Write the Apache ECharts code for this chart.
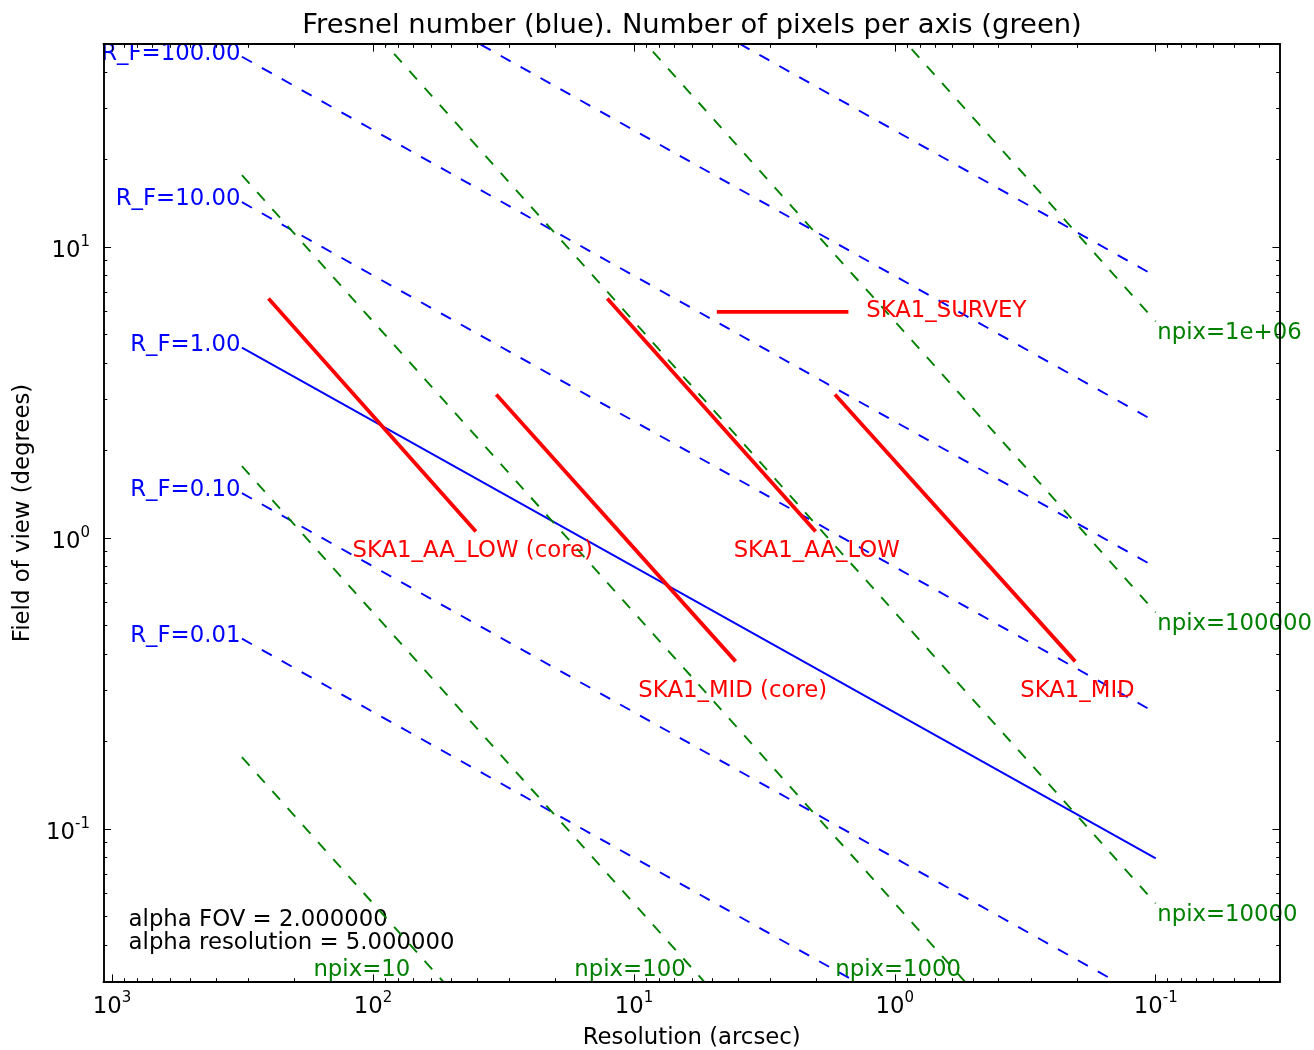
<!DOCTYPE html>
<html>
<head>
<meta charset="utf-8">
<title>Fresnel number / pixels per axis</title>
<script src="https://cdn.jsdelivr.net/npm/echarts@6/dist/echarts.min.js"></script>
<style>
  html, body { margin: 0; padding: 0; background: #fff; }
  #chart { width: 1314px; height: 1050px; }
</style>
</head>
<body>
<div id="chart"></div>
<script>
// Axis ranges (resolution axis runs from large to small)
const resRange = [0.0334, 1079];
const fovRange = [0.0298, 49.85];

const xMajorTicks = [1000, 100, 10, 1, 0.1];
const xMinorTicks = [900, 800, 700, 600, 500, 400, 300, 200,
  90, 80, 70, 60, 50, 40, 30, 20,
  9, 8, 7, 6, 5, 4, 3, 2,
  0.9, 0.8, 0.7, 0.6, 0.5, 0.4, 0.3, 0.2,
  0.09, 0.08, 0.07, 0.06, 0.05, 0.04];
const yMajorTicks = [10, 1, 0.1];
const yMinorTicks = [40, 30, 20,
  9, 8, 7, 6, 5, 4, 3, 2,
  0.9, 0.8, 0.7, 0.6, 0.5, 0.4, 0.3, 0.2,
  0.09, 0.08, 0.07, 0.06, 0.05, 0.04];

// Fresnel number lines, [resolution (arcsec), fov (deg)] at each end
const rfNames = ['R_F=0.01', 'R_F=0.10', 'R_F=1.00', 'R_F=10.00', 'R_F=100.00', 'R_F=1000.00', 'R_F=10000.00'];
const rfStart = [[318, 0.4508], [318, 1.426], [318, 4.508], [318, 14.26], [318, 45.08], [318, 142.6], [318, 450.8]];
const rfEnd = [[0.1, 0.00793], [0.1, 0.02508], [0.1, 0.0793], [0.1, 0.2508], [0.1, 0.793], [0.1, 2.508], [0.1, 7.93]];

// Pixels per axis lines
const npixNames = ['npix=10', 'npix=100', 'npix=1000', 'npix=10000', 'npix=100000', 'npix=1e+06'];
const npixStart = [[318, 0.1765], [318, 1.765], [318, 17.65], [318, 176.5], [318, 1765], [318, 17650]];
const npixEnd = [[0.1, 0.0000555], [0.1, 0.000555], [0.1, 0.00555], [0.1, 0.0555], [0.1, 0.555], [0.1, 5.55]];
// labels of the short npix lines sit at the bottom of the plot
const npixBottomLabels = [['npix=10', 168.5, 0.0327], ['npix=100', 16.85, 0.0327], ['npix=1000', 1.685, 0.0327]];

// SKA1 telescopes
const skaNames = ['SKA1_AA_LOW (core)', 'SKA1_MID (core)', 'SKA1_AA_LOW', 'SKA1_MID', 'SKA1_SURVEY'];
const skaStart = [[248.7, 6.575], [33.32, 3.076], [12.51, 6.575], [1.677, 3.076], [4.73, 5.99]];
const skaEnd = [[40.8, 1.065], [4.124, 0.381], [2.035, 1.065], [0.2059, 0.381], [1.532, 5.99]];
const skaLabelPos = [[41.3, 0.900], [4.16, 0.297], [1.984, 0.900], [0.1987, 0.297], [1.282, 6.007]];

const alphaLines = ['alpha FOV = 2.000000', 'alpha resolution = 5.000000'];

const FONT = 'DejaVu Sans';
const FS = 22.8;

const chart = echarts.init(document.getElementById('chart'));

function powLabel(v) {
  const e = Math.round(Math.log10(v));
  return '{b|10}{s|' + e + '}';
}

const labelRich = {
  b: { fontFamily: FONT, fontSize: FS, lineHeight: 34, color: '#000' },
  s: { fontFamily: FONT, fontSize: 15, height: 17, verticalAlign: 'top', color: '#000' }
};

function xAxisDef(position, major, withLabels) {
  return {
    type: 'log',
    logBase: 10,
    min: resRange[0],
    max: resRange[1],
    inverse: true,
    position: position,
    z: 5,
    splitLine: { show: false },
    axisLine: { show: major, onZero: false, lineStyle: { color: '#000', width: 1.9 } },
    axisTick: {
      show: true,
      inside: true,
      length: major ? 7.6 : 3.8,
      customValues: major ? xMajorTicks : xMinorTicks,
      lineStyle: { color: '#000', width: 1 }
    },
    axisLabel: withLabels ? {
      show: true,
      customValues: xMajorTicks,
      margin: 8,
      formatter: powLabel,
      rich: labelRich
    } : { show: false },
    name: withLabels ? 'Resolution (arcsec)' : '',
    nameLocation: 'middle',
    nameGap: 45,
    nameMoveOverlap: false,
    nameTextStyle: { fontFamily: FONT, fontSize: FS, color: '#000' }
  };
}

function yAxisDef(position, major, withLabels) {
  return {
    type: 'log',
    logBase: 10,
    min: fovRange[0],
    max: fovRange[1],
    position: position,
    z: 5,
    splitLine: { show: false },
    axisLine: { show: major, onZero: false, lineStyle: { color: '#000', width: 1.9 } },
    axisTick: {
      show: true,
      inside: true,
      length: major ? 7.6 : 3.8,
      customValues: major ? yMajorTicks : yMinorTicks,
      lineStyle: { color: '#000', width: 1 }
    },
    axisLabel: withLabels ? {
      show: true,
      customValues: yMajorTicks,
      margin: 13.5,
      padding: [8, 0, 0, 0],
      formatter: powLabel,
      rich: labelRich
    } : { show: false },
    name: withLabels ? 'Field of view (degrees)' : '',
    nameLocation: 'middle',
    nameGap: 69,
    nameMoveOverlap: false,
    nameTextStyle: { fontFamily: FONT, fontSize: FS, color: '#000' }
  };
}

const series = [];

// blue Fresnel lines, R_F=1 solid
rfNames.forEach((name, i) => {
  series.push({
    name: name,
    type: 'line',
    data: [rfStart[i], rfEnd[i]],
    symbol: 'none',
    clip: true,
    silent: true,
    z: 2,
    lineStyle: {
      color: '#0000ff',
      width: 1.9,
      type: name === 'R_F=1.00' ? 'solid' : [11.4, 11.4],
      cap: 'butt'
    }
  });
});

// green npix lines
npixNames.forEach((name, i) => {
  series.push({
    name: name,
    type: 'line',
    data: [npixStart[i], npixEnd[i]],
    symbol: 'none',
    clip: true,
    silent: true,
    z: 2,
    lineStyle: { color: '#008000', width: 1.9, type: [11.4, 11.4], cap: 'butt' }
  });
});

// red telescope lines
skaNames.forEach((name, i) => {
  series.push({
    name: name,
    type: 'line',
    data: [skaStart[i], skaEnd[i]],
    symbol: 'none',
    clip: true,
    silent: true,
    z: 3,
    lineStyle: { color: '#ff0000', width: 3.8, cap: 'square' }
  });
});

// text labels, hung on invisible scatter points
function textSeries(points, color, align, offset) {
  return {
    type: 'scatter',
    data: points,
    symbolSize: 1,
    silent: true,
    clip: true,
    z: 4,
    itemStyle: { color: 'rgba(0,0,0,0)' },
    label: {
      show: true,
      position: [0, 0],
      align: align,
      verticalAlign: 'middle',
      offset: offset,
      formatter: (p) => p.data[2],
      fontFamily: FONT,
      fontSize: FS,
      color: color,
      opacity: 1,
      textBorderWidth: 0,
      textBorderColor: 'transparent',
      textShadowBlur: 0
    }
  };
}

const rfLabelPts = rfNames.map((n, i) => [rfStart[i][0], rfStart[i][1], n])
  .filter(p => p[1] < fovRange[1]);
const npixRightPts = npixNames.map((n, i) => [npixEnd[i][0], npixEnd[i][1], n])
  .filter(p => p[1] > fovRange[0]);
const npixBottomPts = npixBottomLabels.map(l => [l[1], l[2], l[0]]);
const skaCenterPts = skaNames.slice(0, 4).map((n, i) => [skaLabelPos[i][0], skaLabelPos[i][1], n]);
const skaSurveyPts = [[skaLabelPos[4][0], skaLabelPos[4][1], skaNames[4]]];

series.push(textSeries(rfLabelPts, '#0000ff', 'right', [-1, -2.3]));
series.push(textSeries(npixRightPts, '#008000', 'left', [2, 12.5]));
series.push(textSeries(npixBottomPts, '#008000', 'left', [0, 0]));
series.push(textSeries(skaCenterPts, '#ff0000', 'center', [0, 0]));
series.push(textSeries(skaSurveyPts, '#ff0000', 'left', [0, 0]));

const option = {
  animation: false,
  backgroundColor: '#ffffff',
  grid: {
    left: 103.5,
    right: 34,
    top: 44,
    bottom: 68,
    containLabel: false,
    outerBoundsMode: 'none'
  },
  xAxis: [
    xAxisDef('bottom', true, true),
    xAxisDef('bottom', false, false),
    xAxisDef('top', true, false),
    xAxisDef('top', false, false)
  ],
  yAxis: [
    yAxisDef('left', true, true),
    yAxisDef('left', false, false),
    yAxisDef('right', true, false),
    yAxisDef('right', false, false)
  ],
  graphic: [
    {
      type: 'text',
      x: 692,
      y: 26,
      style: {
        text: 'Fresnel number (blue). Number of pixels per axis (green)',
        font: '27.4px "DejaVu Sans"',
        fill: '#000',
        align: 'center',
        verticalAlign: 'middle',
        textAlign: 'center',
        textVerticalAlign: 'middle'
      }
    },
    {
      type: 'text',
      x: 128.6,
      y: 920,
      style: {
        text: alphaLines[0],
        font: FS + 'px "DejaVu Sans"',
        fill: '#000',
        align: 'left',
        verticalAlign: 'middle',
        textAlign: 'left',
        textVerticalAlign: 'middle'
      }
    },
    {
      type: 'text',
      x: 128.6,
      y: 942.6,
      style: {
        text: alphaLines[1],
        font: FS + 'px "DejaVu Sans"',
        fill: '#000',
        align: 'left',
        verticalAlign: 'middle',
        textAlign: 'left',
        textVerticalAlign: 'middle'
      }
    }
  ],
  series: series
};

chart.setOption(option);
</script>
</body>
</html>
